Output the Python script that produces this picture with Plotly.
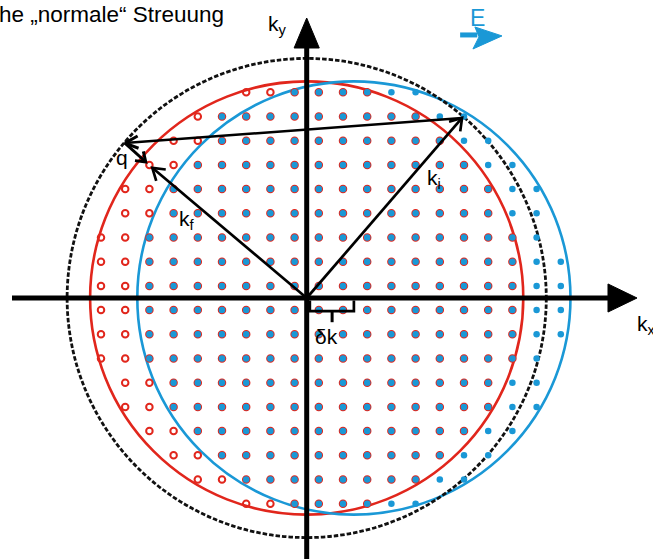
import numpy as np
import plotly.graph_objects as go

# --- lattice of k-states (units of lattice spacing, states sit at half-integers) ---
ROW_Y = [8.5, 7.5, 6.5, 5.5, 4.5, 3.5, 2.5, 1.5, 0.5,
         -0.5, -1.5, -2.5, -3.5, -4.5, -5.5, -6.5, -7.5, -8.5]
# occupied states of the equilibrium Fermi sphere (first / last kx in each row)
RED_FROM = [-2.5, -4.5, -5.5, -6.5, -7.5, -7.5, -8.5, -8.5, -8.5,
            -8.5, -8.5, -8.5, -7.5, -7.5, -6.5, -5.5, -4.5, -2.5]
RED_TO = [2.5, 4.5, 5.5, 6.5, 7.5, 7.5, 8.5, 8.5, 8.5,
          8.5, 8.5, 8.5, 7.5, 7.5, 6.5, 5.5, 4.5, 2.5]
# occupied states of the sphere shifted by the field E
BLUE_FROM = [-0.5, -3.5, -3.5, -4.5, -5.5, -5.5, -6.5, -6.5, -6.5,
             -6.5, -6.5, -6.5, -5.5, -5.5, -4.5, -3.5, -2.5, -0.5]
BLUE_TO = [4.5, 6.5, 7.5, 8.5, 9.5, 9.5, 9.5, 10.5, 10.5,
           10.5, 10.5, 9.5, 9.5, 9.5, 8.5, 7.5, 6.5, 4.5]

# spheres
R_FERMI = 8.95
DELTA_K = 1.95          # shift of the sphere
R_OUTER = 9.9           # dashed circle |k| = const

# wave vectors
K_I = (6.42, 7.44)
K_Q0 = (-7.51, 6.40)
K_QTIP = (-6.65, 5.62)
K_F = (-6.38, 5.38)

RED = "#e1261c"
BLUE = "#1a98d6"
FONT = "Liberation Sans, Arial, sans-serif"

PX = 24.2  # pixels per lattice unit
X_RANGE = [-306.7 / PX, (653 - 306.7) / PX]
Y_RANGE = [(298 - 559) / PX, 298 / PX]


def expand(rows, lo, hi):
    xs, ys = [], []
    for y, a, b in zip(rows, lo, hi):
        for x in np.arange(a, b + 0.5, 1.0):
            xs.append(x)
            ys.append(y)
    return xs, ys


def chevron(tip, frm, length=0.56, half_angle=33):
    d = np.array(tip) - np.array(frm)
    d = d / np.hypot(*d)
    pts = []
    for s in (1, -1):
        a = np.radians(s * half_angle)
        rot = np.array([[np.cos(a), -np.sin(a)], [np.sin(a), np.cos(a)]])
        pts.append(np.array(tip) - length * rot @ d)
    return [pts[0][0], tip[0], pts[1][0]], [pts[0][1], tip[1], pts[1][1]]


fig = go.Figure()

rx, ry = expand(ROW_Y, RED_FROM, RED_TO)
bx, by = expand(ROW_Y, BLUE_FROM, BLUE_TO)

fig.add_trace(go.Scatter(x=rx, y=ry, mode="markers", hoverinfo="skip",
                         marker=dict(symbol="circle-open", size=6.5, color=RED,
                                     line=dict(width=2, color=RED))))
fig.add_trace(go.Scatter(x=bx, y=by, mode="markers", hoverinfo="skip",
                         marker=dict(symbol="circle", size=6.5, color=BLUE,
                                     line=dict(width=0))))

# spheres
fig.add_shape(type="circle", xref="x", yref="y", layer="below",
              x0=-R_FERMI, x1=R_FERMI, y0=-R_FERMI, y1=R_FERMI,
              line=dict(color=RED, width=2.6))
fig.add_shape(type="circle", xref="x", yref="y", layer="below",
              x0=DELTA_K - R_FERMI, x1=DELTA_K + R_FERMI, y0=-R_FERMI, y1=R_FERMI,
              line=dict(color=BLUE, width=2.6))
fig.add_shape(type="circle", xref="x", yref="y", layer="below",
              x0=-R_OUTER, x1=R_OUTER, y0=-R_OUTER, y1=R_OUTER,
              line=dict(color="#111111", width=2.8, dash="4.5px,2px"))


def seg(xs, ys, width=2.7, color="black"):
    fig.add_trace(go.Scatter(x=xs, y=ys, mode="lines", hoverinfo="skip",
                             line=dict(color=color, width=width)))


def tri(xs, ys, color="black"):
    fig.add_trace(go.Scatter(x=xs, y=ys, mode="lines", fill="toself",
                             fillcolor=color, hoverinfo="skip",
                             line=dict(color=color, width=1)))


# coordinate axes with solid heads
seg([X_RANGE[0] + 12 / PX, 12.5], [0, 0], width=5)
tri([12.45, 13.65, 12.45, 12.45], [0.58, 0, -0.58, 0.58])
seg([0, 0], [Y_RANGE[0], 10.4], width=5)
tri([-0.52, 0, 0.52, -0.52], [10.33, 11.57, 10.33, 10.33])

# k_i, k_f and the scattering vector
seg([0, K_I[0]], [0, K_I[1]])
cx, cy = chevron(K_I, (0, 0))
seg(cx, cy)

seg([0, K_F[0]], [0, K_F[1]])
cx, cy = chevron(K_F, (0, 0))
seg(cx, cy)

seg([K_I[0], K_Q0[0]], [K_I[1], K_Q0[1]], width=2.5)
cx, cy = chevron(K_Q0, K_I, length=0.6, half_angle=25)
seg(cx, cy, width=3)

seg([K_Q0[0], K_QTIP[0]], [K_Q0[1], K_QTIP[1]], width=3)
cx, cy = chevron(K_QTIP, K_Q0, length=0.45, half_angle=35)
seg(cx, cy, width=3)

# delta-k bracket
seg([0.13, 0.13, DELTA_K, DELTA_K], [-0.1, -0.54, -0.54, -0.1], width=2.7)
seg([1.05, 1.05], [-0.54, -1.0], width=3)

# field direction arrow
seg([6.34, 7.05], [10.87, 10.87], width=5, color=BLUE)
tri([6.95, 8.07, 6.87, 7.12, 6.95], [11.2, 10.83, 10.29, 10.79, 11.2], color=BLUE)


def label(x, y, text, size=21, color="black", xanchor="left"):
    fig.add_annotation(x=x, y=y, xref="x", yref="y", text=text, showarrow=False,
                       xanchor=xanchor, yanchor="middle",
                       font=dict(family=FONT, size=size, color=color))


label(-1.68, 11.3, "k<sub>y</sub>")
label(13.55, -1.1, "k<sub>x</sub>")
label(4.9, 4.9, "k<sub>i</sub>")
label(-5.35, 3.22, "k<sub>f</sub>")
label(-7.98, 5.8, "q")
label(0.28, -1.6, "δk")
label(6.68, 11.55, "E", size=23, color=BLUE)

fig.add_annotation(x=226 / 653, y=1 - 15 / 559, xref="paper", yref="paper",
                   text="he „normale“ Streuung", showarrow=False,
                   xanchor="right", yanchor="middle",
                   font=dict(family=FONT, size=22.5, color="black"))

fig.update_layout(
    width=653, height=559, margin=dict(l=0, r=0, t=0, b=0),
    paper_bgcolor="white", plot_bgcolor="white", showlegend=False,
    xaxis=dict(range=X_RANGE, visible=False, fixedrange=True),
    yaxis=dict(range=Y_RANGE, visible=False, fixedrange=True),
)

fig.write_html("out.html")
